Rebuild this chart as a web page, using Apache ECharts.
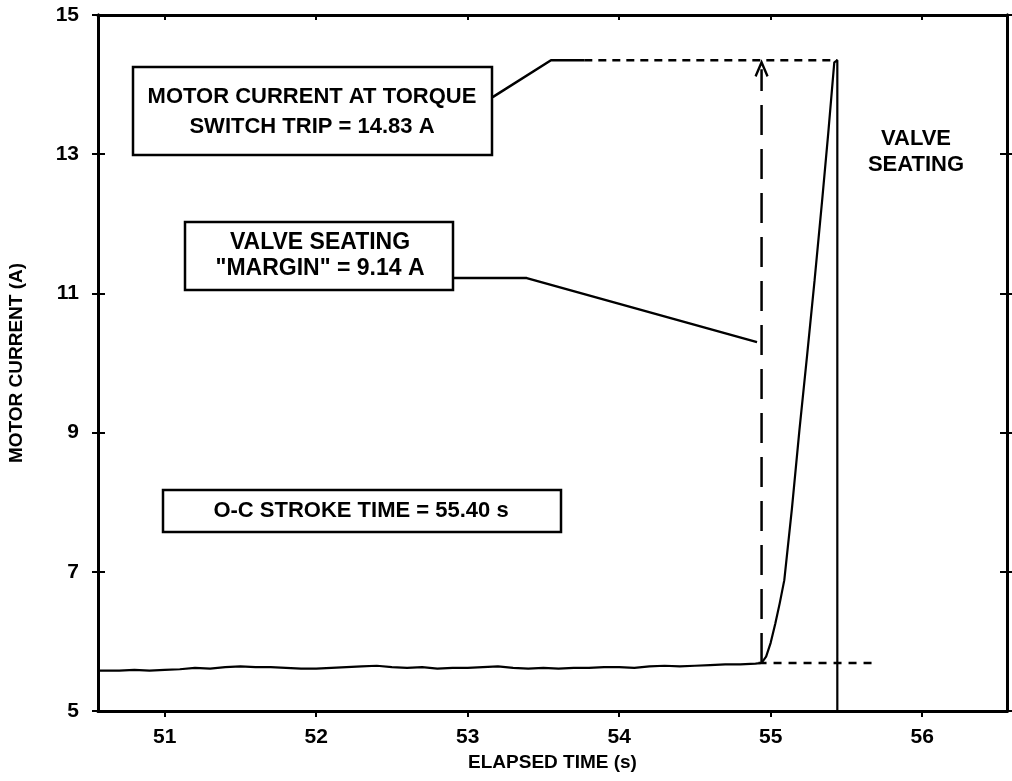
<!DOCTYPE html>
<html>
<head>
<meta charset="utf-8">
<script src="https://cdn.jsdelivr.net/npm/echarts@6/dist/echarts.min.js"></script>
<style>
  html, body { margin: 0; padding: 0; background: #fff; }
  #chart-container { width: 1012px; height: 781px; }
</style>
</head>
<body>
<div id="chart-container"></div>
<script>
// elapsed time (s) and motor current (A)
const timeVals = [
  50.56, 50.7, 50.8, 50.9, 51.0, 51.1, 51.2, 51.3, 51.4, 51.5, 51.6, 51.7, 51.8, 51.9,
  52.0, 52.1, 52.2, 52.3, 52.4, 52.5, 52.6, 52.7, 52.8, 52.9, 53.0, 53.1, 53.2, 53.3,
  53.4, 53.5, 53.6, 53.7, 53.8, 53.9, 54.0, 54.1, 54.2, 54.3, 54.4, 54.5, 54.6, 54.7,
  54.8, 54.9, 54.94, 54.97, 55.0, 55.03, 55.06, 55.09, 55.14, 55.19, 55.24, 55.29,
  55.34, 55.38, 55.42, 55.44, 55.44
];
const currentVals = [
  5.58, 5.58, 5.59, 5.58, 5.59, 5.60, 5.62, 5.61, 5.63, 5.64, 5.63, 5.63, 5.62, 5.61,
  5.61, 5.62, 5.63, 5.64, 5.65, 5.63, 5.62, 5.63, 5.61, 5.62, 5.62, 5.63, 5.64, 5.62,
  5.61, 5.62, 5.61, 5.62, 5.62, 5.63, 5.63, 5.62, 5.64, 5.65, 5.64, 5.65, 5.66, 5.67,
  5.67, 5.68, 5.69, 5.78, 5.98, 6.25, 6.55, 6.88, 7.90, 9.04, 10.10, 11.19,
  12.34, 13.30, 14.32, 14.35, 5.0
];
const xTicks = [51, 52, 53, 54, 55, 56];

// reference lines and callout leaders [time, current]
const tripLine = [[53.77, 14.35], [55.44, 14.35]];
const baseLine = [[54.92, 5.69], [55.70, 5.69]];
const marginArrow = [[54.94, 5.69], [54.94, 14.22]];
const tripLeader = [[53.165, 13.82], [53.55, 14.35], [53.77, 14.35]];
const marginLeader = [[52.90, 11.22], [53.39, 11.22], [54.91, 10.30]];

const FONT = "'Liberation Sans', Arial, sans-serif";

(() => {
  var dom = document.getElementById("chart-container");
  var chart = echarts.init(dom, null, { renderer: "canvas" });

  const lineOf = (pts, style, extra) =>
    Object.assign({
      type: "line",
      data: pts,
      symbol: "none",
      silent: true,
      animation: false,
      lineStyle: Object.assign({ color: "#000", width: 2 }, style),
    }, extra || {});

  const plainAxis = {
    type: "value",
    axisLine: { show: true, lineStyle: { color: "#000", width: 3 } },
    splitLine: { show: false },
    axisLabel: { show: false },
  };
  const tick = (len, inside) => ({ show: true, length: len, inside: inside, lineStyle: { color: "#000", width: 2 } });
  const labelText = { color: "#000", fontSize: 21, fontWeight: "bold", fontFamily: FONT };

  const option = {
    backgroundColor: "#fff",
    animation: false,
    grid: { left: 98, right: 5, top: 15, bottom: 70, outerBoundsMode: "none" },
    xAxis: [
      Object.assign({}, plainAxis, {
        min: 50.56,
        max: 56.56,
        position: "bottom",
        axisTick: Object.assign(tick(6, false), { customValues: xTicks }),
        axisLabel: Object.assign({ show: true, customValues: xTicks, margin: 16 }, labelText),
        name: "ELAPSED TIME (s)",
        nameLocation: "middle",
        nameGap: 42,
        nameTextStyle: { color: "#000", fontSize: 19, fontWeight: "bold", fontFamily: FONT },
      }),
      Object.assign({}, plainAxis, {
        min: 50.56,
        max: 56.56,
        position: "top",
        axisTick: Object.assign(tick(5, true), { customValues: xTicks }),
      }),
    ],
    yAxis: [
      Object.assign({}, plainAxis, {
        min: 5,
        max: 15,
        interval: 2,
        position: "left",
        axisTick: tick(6, false),
        axisLabel: Object.assign({ show: true, margin: 19 }, labelText),
        name: "MOTOR CURRENT (A)",
        nameLocation: "middle",
        nameGap: 72,
        nameTextStyle: { color: "#000", fontSize: 19, fontWeight: "bold", fontFamily: FONT },
      }),
      Object.assign({}, plainAxis, { min: 5, max: 15, interval: 2, position: "left", axisTick: tick(7, true) }),
      Object.assign({}, plainAxis, { min: 5, max: 15, interval: 2, position: "right", axisTick: tick(7, true) }),
      Object.assign({}, plainAxis, { min: 5, max: 15, interval: 2, position: "right", axisTick: tick(6, false) }),
    ],
    series: [
      lineOf(timeVals.map((t, i) => [t, currentVals[i]]), { width: 2.2 }, { z: 5 }),
      lineOf(tripLine, { type: [8, 6], width: 2.5 }),
      lineOf(baseLine, { type: [8, 7], width: 2.5 }),
      lineOf(
        [{ value: marginArrow[0], symbol: "none" }, { value: marginArrow[1] }],
        { type: [30, 14], width: 2.5 },
        {
          symbol: "path://M0,10 L5,0 L10,10",
          symbolSize: [12, 14],
          showSymbol: true,
          itemStyle: { color: "transparent", borderColor: "#000", borderWidth: 2.5 },
        }
      ),
      lineOf(tripLeader, { width: 2.5 }),
      lineOf(marginLeader, { width: 2.5 }),
    ],
    graphic: [
      {
        type: "rect",
        shape: { x: 133, y: 67, width: 359, height: 88 },
        style: { fill: "#fff", stroke: "#000", lineWidth: 2.5 },
      },
      {
        type: "text",
        style: {
          x: 312, y: 112,
          text: "MOTOR CURRENT AT TORQUE\nSWITCH TRIP = 14.83 A",
          font: "bold 22px " + FONT, fill: "#000",
          align: "center", verticalAlign: "middle", lineHeight: 30,
        },
      },
      {
        type: "rect",
        shape: { x: 185, y: 222, width: 268, height: 68 },
        style: { fill: "#fff", stroke: "#000", lineWidth: 2.5 },
      },
      {
        type: "text",
        style: {
          x: 320, y: 256,
          text: "VALVE SEATING\n\"MARGIN\" = 9.14 A",
          font: "bold 23px " + FONT, fill: "#000",
          align: "center", verticalAlign: "middle", lineHeight: 26,
        },
      },
      {
        type: "rect",
        shape: { x: 163, y: 490, width: 398, height: 42 },
        style: { fill: "#fff", stroke: "#000", lineWidth: 2.5 },
      },
      {
        type: "text",
        style: {
          x: 361, y: 511,
          text: "O-C STROKE TIME = 55.40 s",
          font: "bold 22px " + FONT, fill: "#000",
          align: "center", verticalAlign: "middle",
        },
      },
      {
        type: "text",
        style: {
          x: 916, y: 152,
          text: "VALVE\nSEATING",
          font: "bold 22px " + FONT, fill: "#000",
          align: "center", verticalAlign: "middle", lineHeight: 26,
        },
      },
    ],
  };

  chart.setOption(option);
  window.addEventListener("resize", chart.resize);
})();
</script>
</body>
</html>
